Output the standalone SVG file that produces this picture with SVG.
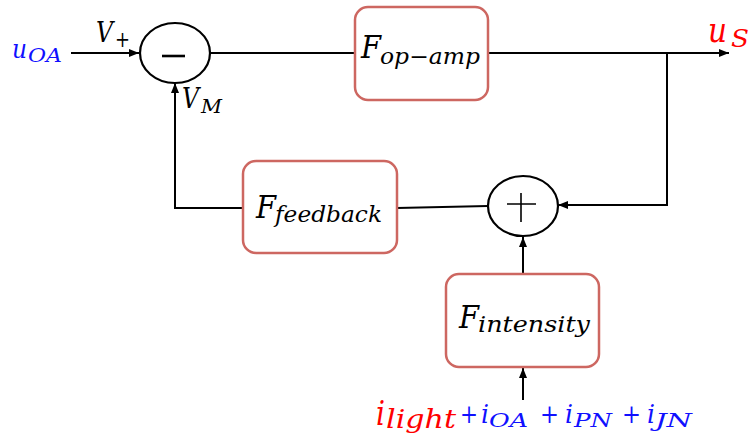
<svg xmlns="http://www.w3.org/2000/svg" width="751" height="444" viewBox="0 0 751 444">
<defs>
<style>
.ln{fill:none;stroke:#000;stroke-width:2}
.box{fill:#fff;stroke:#CD6761;stroke-width:2.5}
.sum{fill:#fff;stroke:#000;stroke-width:2.2}
.m{font-family:"DejaVu Serif","Liberation Serif",serif;font-style:italic}
.p{font-family:"DejaVu Serif","Liberation Serif",serif;font-style:normal}
.blk{fill:#000}
.red{fill:#FF0000}
.blu{fill:#1010FF}
</style>
<marker id="ar" markerUnits="userSpaceOnUse" markerWidth="10" markerHeight="10" refX="10" refY="4" orient="auto">
<path d="M0,0 L10,4 L0,8 z" fill="#000"/>
</marker>
</defs>
<rect width="751" height="444" fill="#fff"/>
<g id="connectors">
<path class="ln" d="M71,53 H139" marker-end="url(#ar)"/>
<path class="ln" d="M210,53 H355"/>
<path class="ln" d="M488,53 H729" marker-end="url(#ar)"/>
<path class="ln" d="M667,53 V205 H558" marker-end="url(#ar)"/>
<path class="ln" d="M397,208 L488,206"/>
<path class="ln" d="M243,208 H175 V83" marker-end="url(#ar)"/>
<path class="ln" d="M523,274 V237" marker-end="url(#ar)"/>
<path class="ln" d="M523,400 V368" marker-end="url(#ar)"/>
</g>
<g id="minus">
<ellipse class="sum" cx="175" cy="53" rx="35" ry="30"/>
<path d="M162,56 H185" stroke="#000" stroke-width="2.6"/>
</g>
<g id="plus">
<ellipse class="sum" cx="523" cy="206" rx="35" ry="30"/>
<path d="M507,204 H536 M521,193 V222" stroke="#000" stroke-width="1.6"/>
</g>
<g id="opamp">
<rect class="box" x="355" y="7" width="133" height="93" rx="13"/>
<text class="m blk" x="361" y="58" font-size="32" textLength="20" lengthAdjust="spacingAndGlyphs">F</text>
<text class="m blk" x="380" y="64" font-size="22" textLength="100" lengthAdjust="spacingAndGlyphs">op−amp</text>
</g>
<g id="feedback">
<rect class="box" x="243" y="161" width="154" height="92" rx="13"/>
<text class="m blk" x="256" y="218" font-size="32" textLength="20" lengthAdjust="spacingAndGlyphs">F</text>
<text class="m blk" x="275" y="222" font-size="23" textLength="107" lengthAdjust="spacingAndGlyphs">feedback</text>
</g>
<g id="intensity">
<rect class="box" x="446" y="274" width="153" height="93" rx="13"/>
<text class="m blk" x="459" y="328" font-size="32" textLength="20" lengthAdjust="spacingAndGlyphs">F</text>
<text class="m blk" x="478" y="332" font-size="22" textLength="112" lengthAdjust="spacingAndGlyphs">intensity</text>
</g>
<g id="labels">
<text class="m blu" x="12" y="58" font-size="26" textLength="15" lengthAdjust="spacingAndGlyphs">u</text>
<text class="m blu" x="28" y="62" font-size="18" textLength="34" lengthAdjust="spacingAndGlyphs">OA</text>
<text class="m blk" x="96" y="42" font-size="27" textLength="17" lengthAdjust="spacingAndGlyphs">V</text>
<text class="p blk" x="115" y="47" font-size="22" textLength="15" lengthAdjust="spacingAndGlyphs">+</text>
<text class="m blk" x="182" y="108" font-size="27" textLength="17" lengthAdjust="spacingAndGlyphs">V</text>
<text class="m blk" x="201" y="113" font-size="18" textLength="21" lengthAdjust="spacingAndGlyphs">M</text>
<text class="m red" x="708" y="42" font-size="36" textLength="19" lengthAdjust="spacingAndGlyphs">u</text>
<text class="m red" x="731" y="47" font-size="25" textLength="18" lengthAdjust="spacingAndGlyphs">S</text>
<text class="m red" x="376" y="425" font-size="34" textLength="9" lengthAdjust="spacingAndGlyphs">i</text>
<text class="m red" x="386" y="428" font-size="26" textLength="70" lengthAdjust="spacingAndGlyphs">light</text>
<text class="p blu" x="460" y="423" font-size="26" textLength="18" lengthAdjust="spacingAndGlyphs">+</text>
<text class="m blu" x="481" y="423" font-size="26" textLength="8" lengthAdjust="spacingAndGlyphs">i</text>
<text class="m blu" x="489" y="427" font-size="18" textLength="39" lengthAdjust="spacingAndGlyphs">OA</text>
<text class="p blu" x="540" y="423" font-size="26" textLength="19" lengthAdjust="spacingAndGlyphs">+</text>
<text class="m blu" x="565" y="423" font-size="26" textLength="8" lengthAdjust="spacingAndGlyphs">i</text>
<text class="m blu" x="574" y="427" font-size="18" textLength="38" lengthAdjust="spacingAndGlyphs">PN</text>
<text class="p blu" x="622" y="423" font-size="26" textLength="19" lengthAdjust="spacingAndGlyphs">+</text>
<text class="m blu" x="647" y="423" font-size="26" textLength="8" lengthAdjust="spacingAndGlyphs">i</text>
<text class="m blu" x="655" y="427" font-size="18" textLength="37" lengthAdjust="spacingAndGlyphs">JN</text>
</g>
</svg>
